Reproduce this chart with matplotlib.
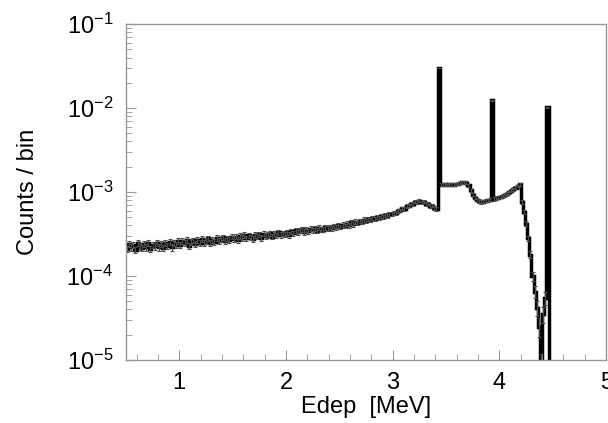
import numpy as np
import matplotlib
matplotlib.use("Agg")
import matplotlib.pyplot as plt

# ---- data (bin width 0.02 MeV, from 0.50 to 5.00 MeV) ----
bin_lo = 0.50
bin_hi = 5.00
n_events = 6.0e5  # normalisation used for statistical error bars

# counts/bin in units of 1e-4
seg_050_100 = [2.1, 2.4, 2.2, 2.35, 2.05, 2.45, 2.25, 2.15, 2.4, 2.2, 2.5, 2.1, 2.35,
               2.25, 2.45, 2.2, 2.4, 2.15, 2.5, 2.3, 2.55, 2.2, 2.45, 2.35, 2.6]
seg_100_150 = [2.35, 2.6, 2.45, 2.7, 2.3, 2.55, 2.65, 2.4, 2.7, 2.5, 2.75, 2.45, 2.6,
               2.8, 2.5, 2.7, 2.55, 2.85, 2.6, 2.75, 2.9, 2.6, 2.8, 2.7, 2.95]
seg_150_200 = [2.75, 2.95, 2.7, 3.0, 2.85, 3.1, 2.8, 3.05, 2.9, 2.75, 3.1, 2.95, 3.15,
               2.85, 3.2, 3.0, 3.1, 3.25, 2.95, 3.2, 3.05, 3.3, 3.1, 3.25, 3.15]
seg_200_250 = [3.3, 3.1, 3.4, 3.25, 3.5, 3.3, 3.45, 3.6, 3.35, 3.55, 3.4, 3.65, 3.5,
               3.7, 3.45, 3.75, 3.6, 3.55, 3.8, 3.65, 3.85, 3.7, 3.95, 3.8, 4.0]
seg_250_300 = [3.85, 4.1, 3.95, 4.2, 4.0, 4.35, 4.15, 4.45, 4.3, 4.5, 4.4, 4.7, 4.55,
               4.8, 4.65, 4.95, 4.8, 5.05, 4.95, 5.2, 5.1, 5.35, 5.25, 5.5, 5.45]
seg_300_342 = [5.7, 5.6, 6.0, 6.05, 6.4, 6.35, 6.8, 6.9, 7.3, 7.2, 7.7, 7.6, 7.9,
               7.55, 7.7, 7.25, 7.3, 6.85, 6.9, 6.45, 6.3]
peak_double_escape = [300.0]          # 3.42-3.44 MeV
seg_344_370 = [12.2, 12.4, 12.3, 12.1, 12.3, 12.4, 12.2, 12.5, 12.6, 12.8, 13.0, 13.1, 12.9]
seg_370_392 = [12.0, 10.5, 9.3, 8.6, 8.1, 7.8, 7.6, 7.7, 7.9, 8.0, 8.1]
peak_single_escape = [124.0]          # 3.92-3.94 MeV
seg_394_420 = [8.3, 8.5, 8.6, 8.8, 9.0, 9.3, 9.6, 10.0, 10.4, 10.8, 11.3, 11.8, 12.4]
seg_420_444 = [7.6, 5.8, 4.2, 2.8, 1.8, 1.0, 0.65, 0.42, 0.25, 0.08, 0.35, 0.55]
peak_full_energy = [102.0]            # 4.44-4.46 MeV
seg_446_500 = [0.0] * 27

values = 1e-4 * np.array(seg_050_100 + seg_100_150 + seg_150_200 + seg_200_250 +
                         seg_250_300 + seg_300_342 + peak_double_escape + seg_344_370 +
                         seg_370_392 + peak_single_escape + seg_394_420 + seg_420_444 +
                         peak_full_energy + seg_446_500)

x_ticks = [1, 2, 3, 4, 5]

# ---- plotting ----
plt.rcParams['font.family'] = ['Liberation Sans', 'DejaVu Sans']
plt.rcParams['mathtext.fontset'] = 'custom'
plt.rcParams['mathtext.rm'] = 'Liberation Sans'
plt.rcParams['mathtext.it'] = 'Liberation Sans:italic'

edges = np.linspace(bin_lo, bin_hi, len(values) + 1)
centers = 0.5 * (edges[:-1] + edges[1:])
errs = np.sqrt(values / n_events)

fig = plt.figure(figsize=(6.08, 4.23), dpi=100)
ax = fig.add_axes([0.207, 0.149, 0.790, 0.794])

plot_vals = np.where(values > 0, values, 1e-9)
ax.stairs(plot_vals, edges, color='black', linewidth=2.5, baseline=None)

mask = values > 0
ax.errorbar(centers[mask], values[mask], yerr=errs[mask], fmt='none',
            ecolor='0.3', elinewidth=0.9, capsize=1.6, capthick=0.8)

ax.set_yscale('log')
ax.set_xlim(bin_lo, bin_hi)
ax.set_ylim(1e-5, 1e-1)
ax.set_xticks(x_ticks)
ax.set_xticks(np.arange(0.6, 5.0, 0.2), minor=True)

for s in ax.spines.values():
    s.set_color('#999999')
    s.set_linewidth(1.0)

ax.tick_params(axis='both', which='both', direction='in', color='#999999',
               top=False, right=False, labelsize=17)
ax.tick_params(axis='x', which='major', length=7, pad=9)
ax.tick_params(axis='x', which='minor', length=4)
ax.tick_params(axis='y', which='major', length=7, pad=9)
ax.tick_params(axis='y', which='minor', length=4)

ax.set_xlabel('Edep  [MeV]', fontsize=17, labelpad=1)
ax.set_ylabel('Counts / bin', fontsize=17, labelpad=20)

fig.savefig('out.png', dpi=100)
